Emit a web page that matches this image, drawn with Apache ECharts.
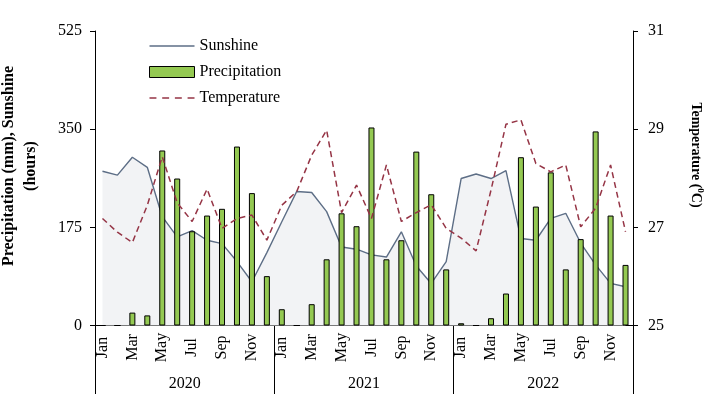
<!DOCTYPE html>
<html>
<head>
<meta charset="utf-8">
<script src="https://cdn.jsdelivr.net/npm/echarts@6/dist/echarts.min.js"></script>
<style>
html,body{margin:0;padding:0;background:#fff;}
#chart{width:705px;height:394px;}
</style>
</head>
<body>
<div id="chart"></div>
<script>
var monthNames = ['Jan','Feb','Mar','Apr','May','Jun','Jul','Aug','Sep','Oct','Nov','Dec'];
var years = ['2020','2021','2022'];
var categories = [].concat(monthNames, monthNames, monthNames);

var precipitation = [
  0, 0, 23, 18, 312, 262, 168, 196, 208, 319, 236, 88,
  29, 0, 38, 118, 200, 177, 353, 118, 152, 310, 234, 100,
  4, 0, 13, 57, 300, 212, 273, 100, 154, 346, 196, 108
];
var sunshine = [
  275, 268, 300, 282, 194, 158, 169, 152, 146, 114, 78, 130,
  185, 239, 237, 203, 140, 136, 126, 122, 167, 106, 75, 114,
  262, 270, 262, 276, 155, 152, 191, 200, 147, 108, 75, 69
];
var temperature = [
  27.18, 26.90, 26.69, 27.45, 28.44, 27.50, 27.12, 27.78, 26.98, 27.18, 27.25, 26.74,
  27.45, 27.73, 28.47, 28.98, 27.30, 27.86, 27.18, 28.27, 27.12, 27.30, 27.46, 26.98,
  26.78, 26.52, 27.76, 29.10, 29.19, 28.30, 28.13, 28.27, 27.01, 27.39, 28.27, 26.91
];
var leftTicks = [0, 175, 350, 525];
var rightTicks = [25, 27, 29, 31];

var FONT = '"Liberation Serif", "Times New Roman", serif';
var SUN_COLOR = '#5D6E86';
var TEMP_COLOR = '#953445';
var BAR_COLOR = '#94C952';

var chart = echarts.init(document.getElementById('chart'), null, {renderer: 'canvas'});

chart.setOption({
  animation: false,
  backgroundColor: '#ffffff',
  textStyle: {fontFamily: FONT, color: '#000'},
  grid: {left: 95, right: 72, top: 31, bottom: 68.5, containLabel: false},
  legend: {
    orient: 'vertical',
    left: 149,
    top: 38,
    padding: 0,
    itemWidth: 45,
    itemHeight: 11,
    itemGap: 10,
    symbolKeepAspect: true,
    textStyle: {fontFamily: FONT, fontSize: 16, color: '#000', lineHeight: 16},
    data: [
      {name: 'Sunshine', icon: 'path://M0,0h40v1.3h-40z', itemStyle: {color: SUN_COLOR, borderWidth: 0}},
      {name: 'Precipitation', icon: 'rect', itemStyle: {color: BAR_COLOR, borderColor: '#000', borderWidth: 1}},
      {name: 'Temperature', icon: 'path://M0,0h6v1.3h-6z M11,0h6v1.3h-6z M22,0h6v1.3h-6z M33,0h6v1.3h-6z', itemStyle: {color: TEMP_COLOR, borderWidth: 0}}
    ]
  },
  xAxis: [
    {
      type: 'category',
      data: categories,
      position: 'bottom',
      axisLine: {show: true, lineStyle: {color: '#000', width: 1}},
      axisTick: {show: false},
      axisLabel: {
        interval: 1,
        rotate: 90,
        align: 'center',
        verticalAlign: 'middle',
        margin: 22,
        fontFamily: FONT,
        fontSize: 16,
        color: '#000'
      },
      splitLine: {show: false}
    },
    {
      type: 'category',
      data: years,
      position: 'bottom',
      offset: 0,
      axisLine: {show: false},
      axisTick: {show: true, inside: false, length: 70, lineStyle: {color: '#000', width: 1}},
      axisLabel: {margin: 50, fontFamily: FONT, fontSize: 16, color: '#000'},
      splitLine: {show: false}
    }
  ],
  yAxis: [
    {
      type: 'value',
      min: leftTicks[0],
      max: leftTicks[leftTicks.length - 1],
      interval: 175,
      position: 'left',
      axisLine: {show: true, lineStyle: {color: '#000', width: 1}},
      axisTick: {show: true, length: 5, lineStyle: {color: '#000'}},
      axisLabel: {margin: 13, fontFamily: FONT, fontSize: 16, color: '#000'},
      splitLine: {show: false}
    },
    {
      type: 'value',
      min: rightTicks[0],
      max: rightTicks[rightTicks.length - 1],
      interval: 2,
      position: 'right',
      axisLine: {show: true, lineStyle: {color: '#000', width: 1}},
      axisTick: {show: true, length: 5, lineStyle: {color: '#000'}},
      axisLabel: {margin: 15, fontFamily: FONT, fontSize: 16, color: '#000'},
      splitLine: {show: false}
    }
  ],
  graphic: [
    {
      type: 'text',
      x: 20,
      y: 166,
      rotation: Math.PI / 2,
      style: {
        text: 'Precipitation (mm), Sunshine\n(hours)',
        font: 'bold 16px "Liberation Serif"',
        fill: '#000',
        align: 'center',
        verticalAlign: 'middle',
        lineHeight: 22
      }
    },
    {
      type: 'text',
      x: 696,
      y: 155,
      rotation: -Math.PI / 2,
      style: {
        text: '{a|Temperature (}{s|0}{a|C)}',
        align: 'center',
        verticalAlign: 'middle',
        rich: {
          a: {fontFamily: FONT, fontWeight: 'bold', fontSize: 14, fill: '#000', color: '#000', lineHeight: 18},
          s: {fontFamily: FONT, fontWeight: 'bold', fontSize: 9, color: '#000', fill: '#000', lineHeight: 18, padding: [0, 0, 8, 0]}
        }
      }
    }
  ],
  series: [
    {
      name: 'Sunshine',
      type: 'line',
      xAxisIndex: 0,
      yAxisIndex: 0,
      data: sunshine,
      symbol: 'none',
      showSymbol: false,
      lineStyle: {color: SUN_COLOR, width: 1.4},
      itemStyle: {color: SUN_COLOR},
      areaStyle: {color: '#F2F3F5', opacity: 1},
      z: 1
    },
    {
      name: 'Precipitation',
      type: 'bar',
      xAxisIndex: 0,
      yAxisIndex: 0,
      data: precipitation,
      barWidth: 6,
      itemStyle: {color: BAR_COLOR, borderColor: '#000', borderWidth: 1},
      z: 2
    },
    {
      name: 'Temperature',
      type: 'line',
      xAxisIndex: 0,
      yAxisIndex: 1,
      data: temperature,
      symbol: 'none',
      showSymbol: false,
      lineStyle: {color: TEMP_COLOR, width: 1.5, type: [6, 4]},
      itemStyle: {color: TEMP_COLOR},
      z: 3
    }
  ]
});
</script>
</body>
</html>
